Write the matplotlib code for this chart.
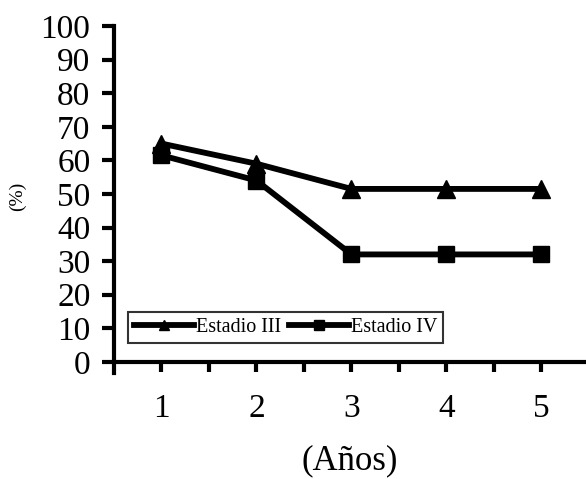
import matplotlib.pyplot as plt
from matplotlib.ticker import FixedLocator

# datos
anios = [1, 2, 3, 4, 5]
estadio_iii = [65, 59, 51.5, 51.5, 51.5]
estadio_iv = [61.5, 54, 32, 32, 32]
yticks = list(range(0, 101, 10))

plt.rcParams['font.family'] = ['Liberation Serif', 'DejaVu Serif']

fig = plt.figure(figsize=(5.86, 4.79), dpi=100)
ax = fig.add_axes([114 / 586, 1 - 373 / 479, 472 / 586, 347 / 479])

ax.plot(anios, estadio_iii, color='black', lw=4.2, marker='^', ms=13,
        label='Estadio III')
ax.plot(anios, estadio_iv, color='black', lw=4.2, marker='s', ms=11,
        label='Estadio IV')

ax.set_xlim(0.5, 5.47)
ax.set_ylim(-3.3, 100)

# ejes
for s in ['top', 'right']:
    ax.spines[s].set_visible(False)
ax.spines['bottom'].set_position(('data', 0))
ax.spines['left'].set_linewidth(3)
ax.spines['bottom'].set_linewidth(3)

ax.set_yticks(yticks)
ax.xaxis.set_major_locator(FixedLocator(anios))
ax.xaxis.set_minor_locator(FixedLocator([1.5, 2.5, 3.5, 4.5]))
ax.tick_params(axis='y', direction='out', length=9, width=3, labelsize=24, pad=8)
ax.tick_params(axis='x', which='both', direction='out', length=7.5, width=3)
ax.tick_params(axis='x', which='major', labelsize=24, pad=15)

ax.set_xlabel('(Años)', fontsize=25, labelpad=15)
fig.text(17 / 586, 1 - 196 / 479, '(%)', rotation=90, fontsize=14,
         ha='center', va='center')

leg = ax.legend(loc='lower left', bbox_to_anchor=(128 / 586, 1 - 343 / 479),
                bbox_transform=fig.transFigure, borderaxespad=0, ncol=2,
                fontsize=14.5, frameon=True, fancybox=False, handlelength=3.0,
                handletextpad=0.1, columnspacing=0.35, markerscale=0.6,
                borderpad=0.3)
leg.get_frame().set_edgecolor('black')
leg.get_frame().set_linewidth(1.5)

fig.savefig('out.png', dpi=100)
